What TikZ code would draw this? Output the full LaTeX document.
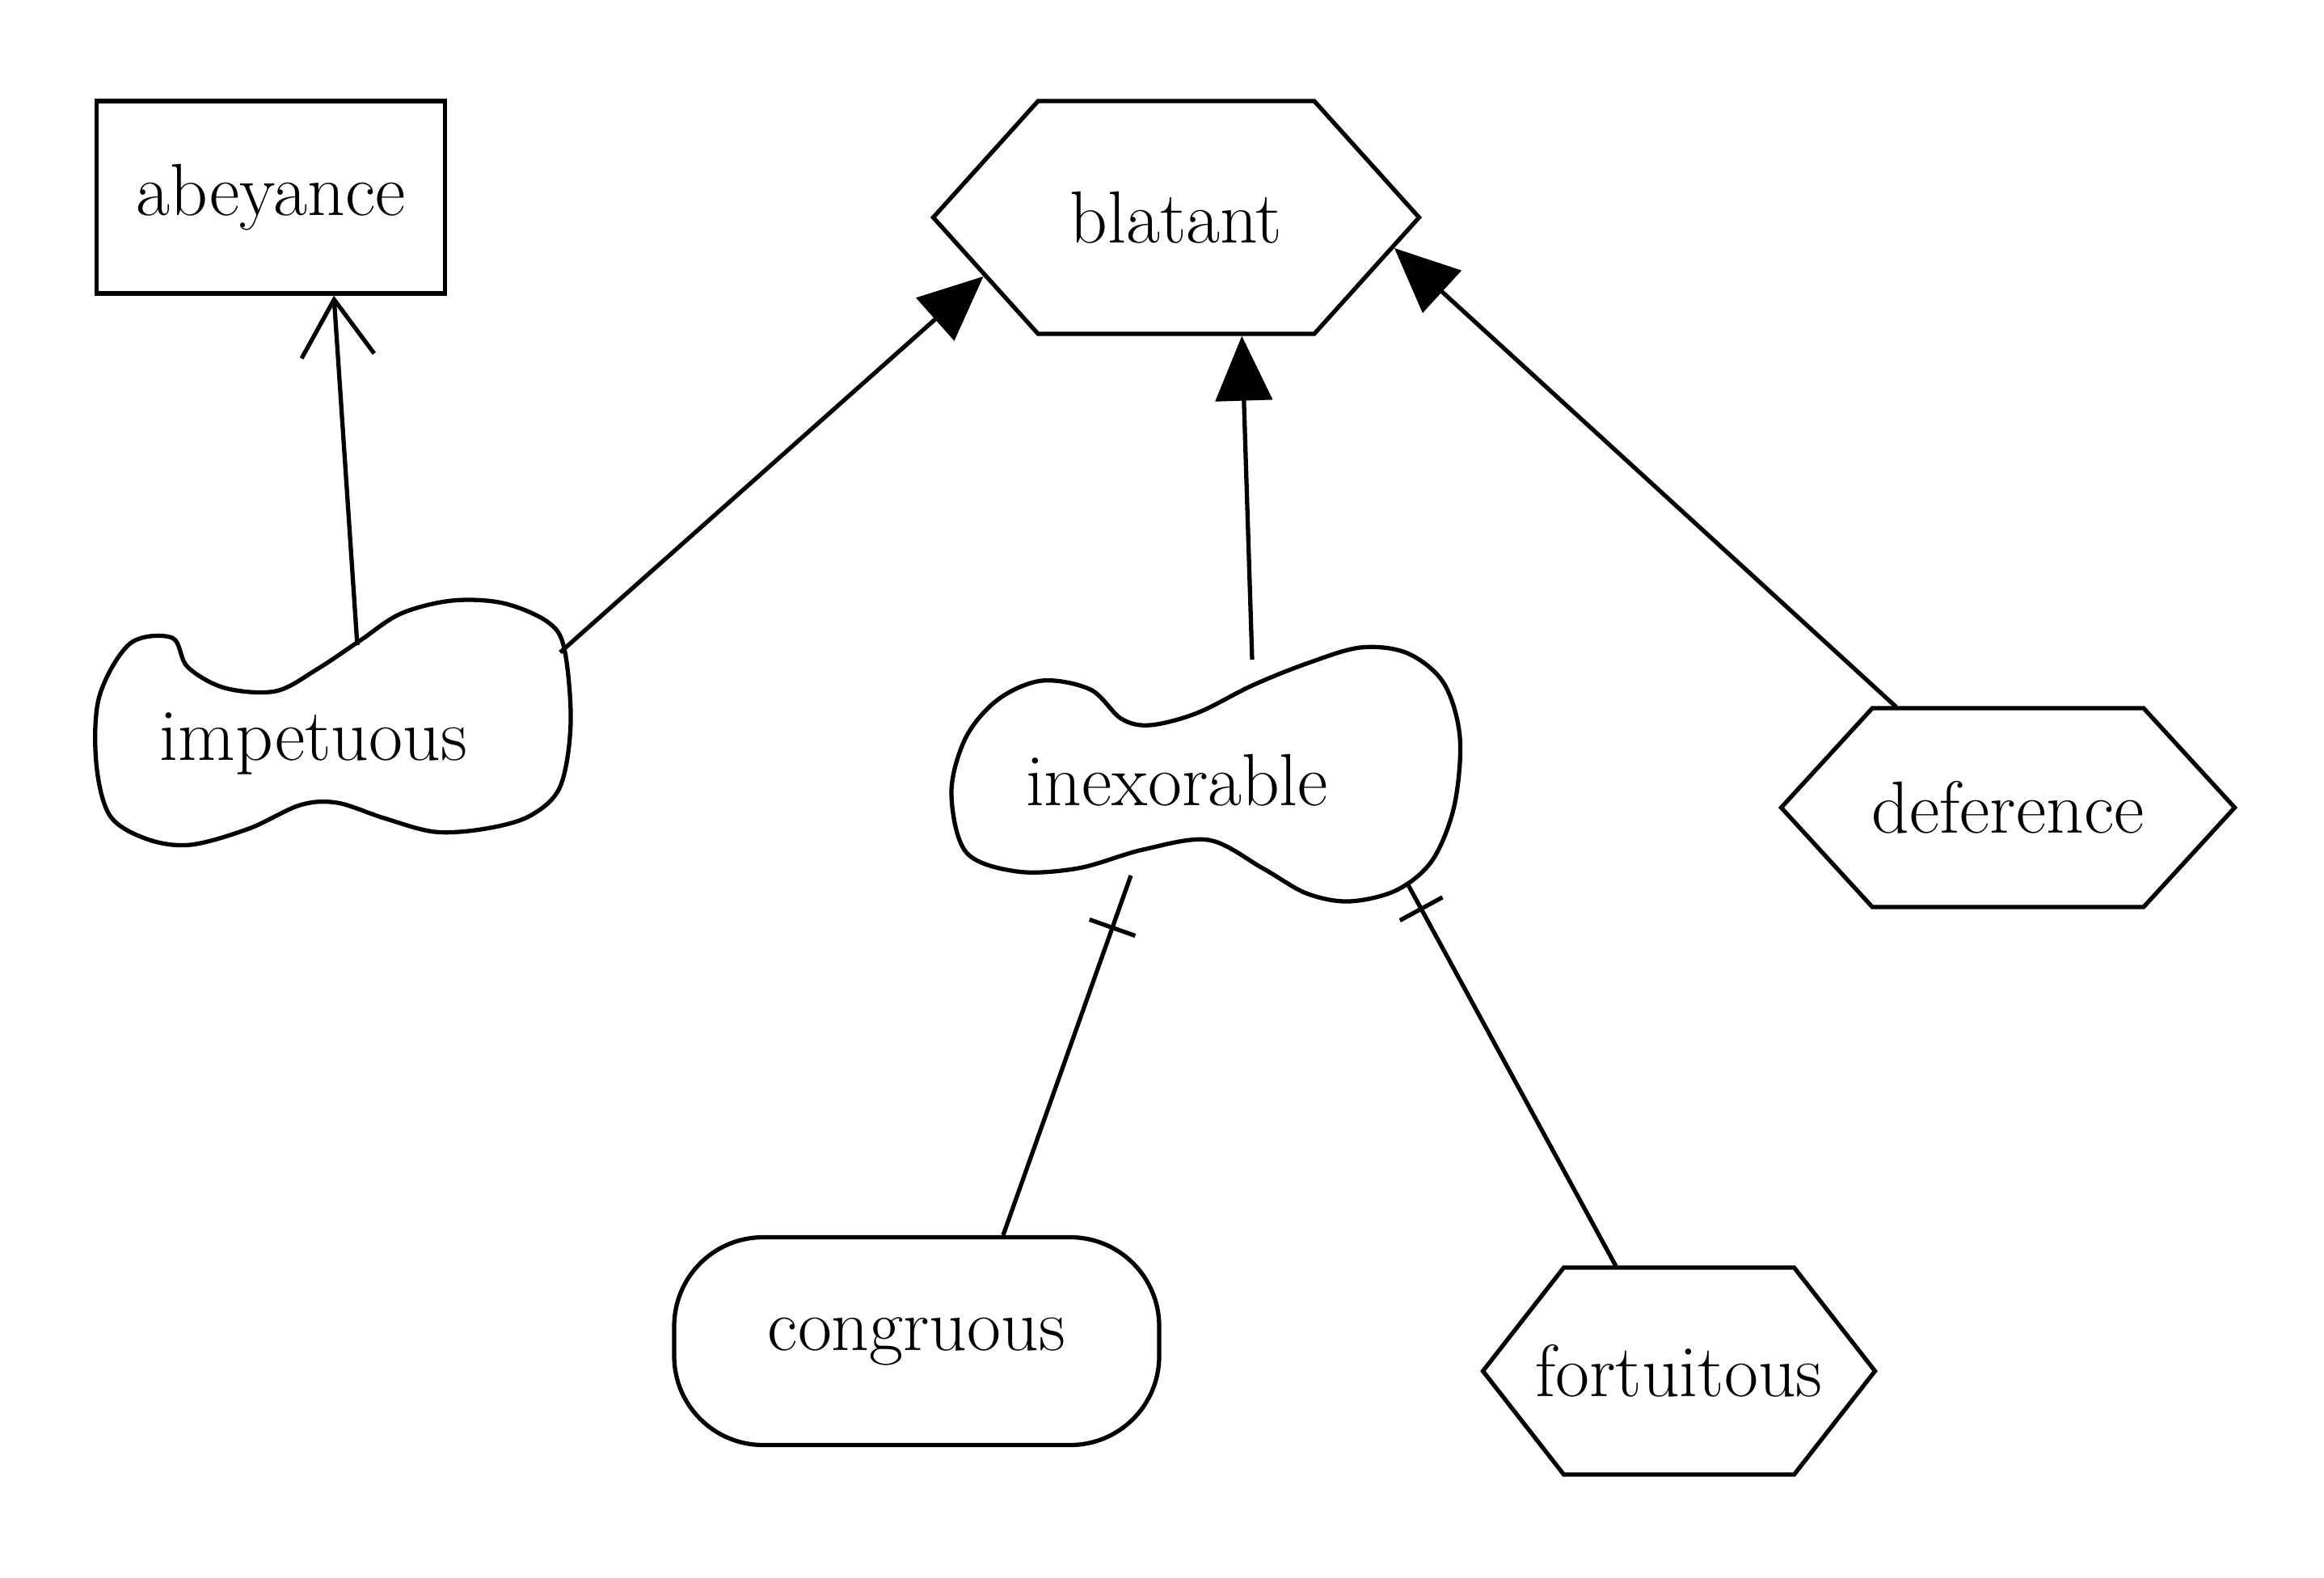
\documentclass[tikz,border=0pt]{standalone}
\usepackage{tikz}
\usetikzlibrary{shapes.symbols, arrows.meta}

\begin{document}
\begin{tikzpicture}[
  every node/.style={font=\fontsize{26}{30}\selectfont},
  box/.style={draw, line width=1.5pt, inner sep=0pt},
  hexa/.style={draw, line width=1.5pt, signal, signal to=west and east, inner sep=0pt},
  blob/.style={line width=1.5pt, line join=round},
  link/.style={line width=1.5pt},
  isa/.style={link, -{Triangle[length=0.8cm, width=0.7cm]}},
  up/.style={link, -{Straight Barb[length=0.7cm, width=0.9cm]}},
  tickbar/.style={draw, line width=1.5pt, inner sep=0pt, minimum width=0pt, minimum height=0.6cm, sloped}
]
\useasboundingbox (0,0) rectangle (28.75,-19.52);

\node[box, minimum width=4.31cm, minimum height=2.38cm] (abey) at (3.35,-2.44) {abeyance};
\node[hexa, minimum width=6.01cm, minimum height=2.88cm, signal pointer angle=96] (blat) at (14.55,-2.69) {blatant};
\node (imp) at (3.88,-9.2) {impetuous};
\node (inex) at (14.56,-9.65) {inexorable};
\node[hexa, minimum width=5.61cm, minimum height=2.46cm, signal pointer angle=95] (defr) at (24.84,-9.99) {\makebox[3.3cm]{deference}};
\node[box, rounded corners=1.1cm, minimum width=6cm, minimum height=2.57cm] (cong) at (11.34,-16.59) {congruous};
\node[hexa, minimum width=4.85cm, minimum height=2.56cm, signal pointer angle=104] (fort) at (20.77,-16.96) {\makebox[2.8cm]{fortuitous}};

\draw[blob] plot[smooth cycle, tension=0.55] coordinates {(2.13,-7.89) (2.32,-8.25) (2.78,-8.51) (3.41,-8.55) (3.92,-8.28) (4.46,-7.92) (4.96,-7.59) (5.59,-7.43) (6.22,-7.46) (6.77,-7.69) (6.98,-8.02) (7.06,-8.94) (6.93,-9.73) (6.56,-10.09) (6.01,-10.25) (5.38,-10.29) (4.75,-10.12) (4.17,-9.93) (3.71,-9.96) (3.08,-10.25) (2.36,-10.45) (1.82,-10.38) (1.36,-10.09) (1.19,-9.43) (1.23,-8.61) (1.61,-7.96)};
\draw[blob] plot[smooth cycle, tension=0.55] coordinates {(13.49,-8.53) (13.87,-8.89) (14.23,-8.97) (14.81,-8.82) (15.49,-8.48) (16.16,-8.21) (16.83,-8.01) (17.41,-8.08) (17.86,-8.45) (18.06,-9.12) (17.99,-9.97) (17.72,-10.64) (17.28,-11.01) (16.69,-11.15) (16.16,-11.05) (15.62,-10.74) (14.95,-10.39) (14.14,-10.51) (13.34,-10.74) (12.58,-10.78) (11.95,-10.54) (11.77,-9.80) (11.95,-9.12) (12.35,-8.65) (12.89,-8.42)};

\coordinate (imp-up) at (4.42,-7.98);
\coordinate (imp-rt) at (6.93,-8.07);
\coordinate (inex-up) at (15.49,-8.16);
\coordinate (inex-l) at (13.99,-10.83);
\coordinate (inex-r) at (17.40,-10.91);

\draw[up] (imp-up) -- ([xshift=0.78cm]abey.south);
\draw[isa] (imp-rt) -- (blat.197);
\draw[isa] (inex-up) -- (blat.299);
\draw[isa] (defr.138) -- (blat.-8);
\draw[link] (inex-l) -- node[tickbar, pos=0.145] {} ([xshift=1.07cm]cong.north);
\draw[link] (inex-r) -- node[tickbar, pos=0.07] {} (fort.121);
\end{tikzpicture}
\end{document}
